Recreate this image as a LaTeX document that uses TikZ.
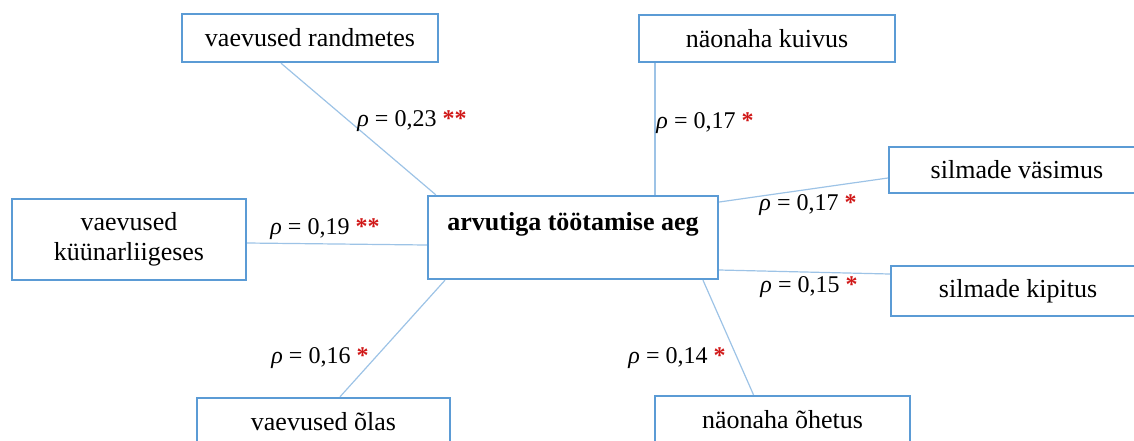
\documentclass[tikz,border=0pt]{standalone}
\usepackage{fontspec}
\setmainfont{Liberation Serif}
\usepackage{xcolor}
\definecolor{boxline}{HTML}{5B9BD5}
\definecolor{linkline}{HTML}{9DC3E6}
\definecolor{starred}{HTML}{D01818}
\usetikzlibrary{positioning, calc}
\newcommand{\rhoval}[2]{\textit{ρ} = #1 {\color{starred}\textbf{#2}}}

\begin{document}
\begin{tikzpicture}[
        x=0.5pt, y=-0.5pt,
        factor/.style={
            rectangle,
            draw=boxline,
            line width=1.2pt,
            fill=white,
            align=center,
            inner sep=0pt,
            font=\fontsize{13}{15}\selectfont
        },
        link/.style={
            draw=linkline,
            line width=0.6pt
        },
        coef/.style={
            font=\fontsize{12}{14}\selectfont,
            inner sep=0pt
        }
    ]

    \useasboundingbox (0,0) rectangle (1134,440);
    \clip (0,0) rectangle (1134,440);

    % Central factor
    \node[factor, minimum width=145pt, minimum height=41.5pt, text depth=16pt,
          font=\fontsize{13}{15}\selectfont\bfseries] (ctr) at (573,237.5) {arvutiga töötamise aeg};

    % Surrounding symptoms
    \node[factor, minimum width=128pt, minimum height=24pt] (rand) at (310,38) {vaevused randmetes};
    \node[factor, minimum width=128pt, minimum height=23.5pt] (kuiv) at (767,38.5) {näonaha kuivus};
    \node[factor, minimum width=128pt, minimum height=23pt] (vasi) at (1017,170) {silmade väsimus};
    \node[factor, minimum width=127pt, minimum height=25pt] (kipi) at (1018,291) {silmade kipitus};
    \node[factor, minimum width=117pt, minimum height=40.5pt] (kyyn) at (129,239.5) {vaevused\\küünarliigeses};
    \node[factor, minimum width=126.5pt, minimum height=23.5pt] (olas) at (323.5,421.5) {vaevused õlas};
    \node[factor, minimum width=127.5pt, minimum height=23.5pt] (ohet) at (782.5,419.5) {näonaha õhetus};

    % Connectors
    \draw[link] ([xshift=-14.5pt]rand.south) -- ([xshift=4.5pt]ctr.north west);
    \draw[link] ([xshift=-56pt]kuiv.south) -- ([xshift=41pt]ctr.north);
    \draw[link] ([yshift=17.75pt]ctr.east) -- ([yshift=-4pt]vasi.west);
    \draw[link] ([yshift=-16.25pt]ctr.east) -- ([yshift=8.5pt]kipi.west);
    \draw[link] ([yshift=-1.75pt]kyyn.east) -- ([yshift=-3.75pt]ctr.west);
    \draw[link] ([xshift=8.25pt]olas.north) -- ([xshift=-64pt]ctr.south);
    \draw[link] ([xshift=-14.5pt]ohet.north) -- ([xshift=65pt]ctr.south);

    % Correlation labels
    \node[coef] (c-rand) at (412,121) {\rhoval{0,23}{**}};
    \node[coef] (c-kuiv) at (705,123) {\rhoval{0,17}{*}};
    \node[coef] (c-vasi) at (808,205) {\rhoval{0,17}{*}};
    \node[coef] (c-kipi) at (809,287) {\rhoval{0,15}{*}};
    \node[coef] (c-kyyn) at (325,229) {\rhoval{0,19}{**}};
    \node[coef] (c-olas) at (320,358) {\rhoval{0,16}{*}};
    \node[coef] (c-ohet) at (677,358) {\rhoval{0,14}{*}};

\end{tikzpicture}
\end{document}
